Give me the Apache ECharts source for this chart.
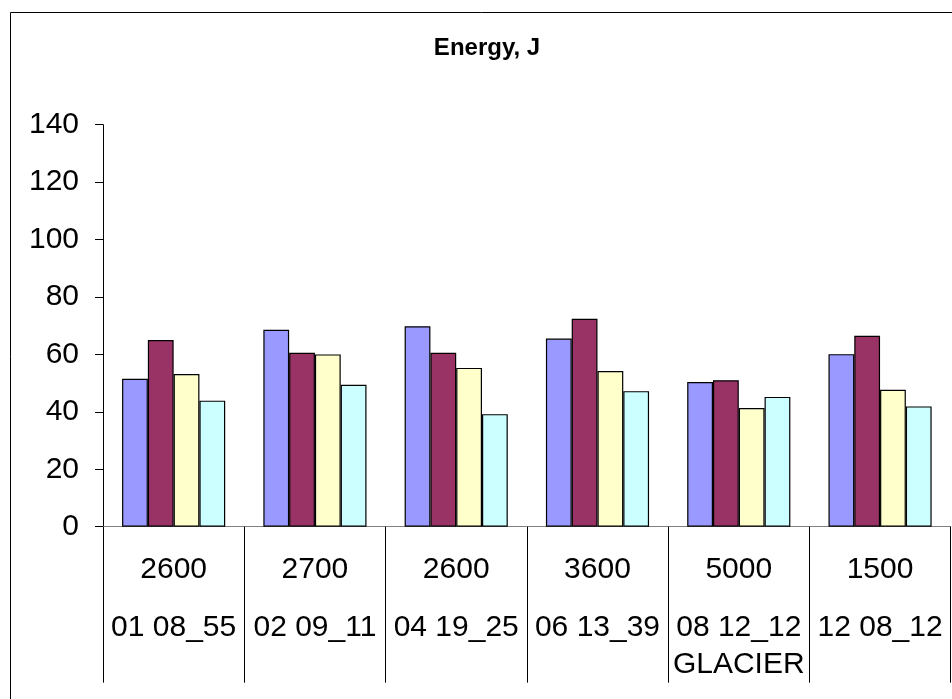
<!DOCTYPE html>
<html>
<head>
<meta charset="utf-8">
<script src="https://cdn.jsdelivr.net/npm/echarts@6/dist/echarts.min.js"></script>
<style>
html,body{margin:0;padding:0;background:#fff;}
#chart{width:952px;height:699px;}
</style>
</head>
<body>
<div id="chart"></div>
<script>
// ---- data ----
var altitudes = ['2600', '2700', '2600', '3600', '5000', '1500'];
var names = ['01 08_55', '02 09_11', '04 19_25', '06 13_39', '08 12_12\nGLACIER', '12 08_12'];
var series1 = [51.5, 68.6, 69.8, 65.5, 50.4, 60.1];
var series2 = [65.0, 60.6, 60.6, 72.4, 51.0, 66.5];
var series3 = [53.2, 60.0, 55.3, 54.2, 41.3, 47.7];
var series4 = [43.9, 49.4, 39.2, 47.2, 45.2, 41.9];
var yTicks = [0, 20, 40, 60, 80, 100, 120, 140];
var titleText = 'Energy, J';

var FONT = '"Liberation Sans", Arial, sans-serif';
var colors = ['#9999FF', '#993366', '#FFFFCC', '#CCFFFF'];

var chart = echarts.init(document.getElementById('chart'), null, {renderer: 'canvas'});

function mkSeries(name, data, color) {
  return {
    name: name,
    type: 'bar',
    data: data,
    barGap: '0%',
    barCategoryGap: '27%',
    itemStyle: {color: color, borderColor: '#000', borderWidth: 1.2},
    emphasis: {disabled: true}
  };
}

var option = {
  animation: false,
  backgroundColor: '#fff',
  textStyle: {fontFamily: FONT},
  graphic: [
    {type: 'rect', z: -1, shape: {x: 10.5, y: 12.5, width: 1200, height: 1200},
     style: {fill: 'none', stroke: '#000', lineWidth: 1}},
    {type: 'text', x: 487, y: 48,
     style: {text: titleText, fill: '#000', font: 'bold 24px ' + FONT,
             textAlign: 'center', textVerticalAlign: 'middle'}}
  ],
  grid: {left: 103, top: 124.7, right: 1.3, bottom: 172.3, containLabel: false},
  xAxis: {
    type: 'category',
    data: altitudes.map(function (a) { return a; }),
    axisLine: {show: true, lineStyle: {color: '#808080', width: 1}},
    axisTick: {show: true, interval: 0, length: 156, lineStyle: {color: '#000', width: 1}},
    axisLabel: {
      interval: 0,
      margin: 3.5,
      color: '#000',
      fontFamily: FONT,
      formatter: function (val, idx) {
        var parts = names[idx].split('\n').map(function (p) { return '{b|' + p + '}'; });
        return '{a|' + altitudes[idx] + '}\n' + parts.join('\n');
      },
      rich: {
        a: {fontSize: 30, lineHeight: 79, fontFamily: FONT, color: '#000'},
        b: {fontSize: 30, lineHeight: 37, fontFamily: FONT, color: '#000'}
      }
    }
  },
  yAxis: {
    type: 'value',
    min: yTicks[0],
    max: yTicks[yTicks.length - 1],
    interval: yTicks[1] - yTicks[0],
    axisLine: {show: true, lineStyle: {color: '#000', width: 1}},
    axisTick: {show: true, length: 8, lineStyle: {color: '#000', width: 1}},
    splitLine: {show: false},
    axisLabel: {margin: 24, fontSize: 30, color: '#000', fontFamily: FONT}
  },
  series: [
    mkSeries('Series 1', series1, colors[0]),
    mkSeries('Series 2', series2, colors[1]),
    mkSeries('Series 3', series3, colors[2]),
    mkSeries('Series 4', series4, colors[3])
  ]
};
chart.setOption(option);
</script>
</body>
</html>
